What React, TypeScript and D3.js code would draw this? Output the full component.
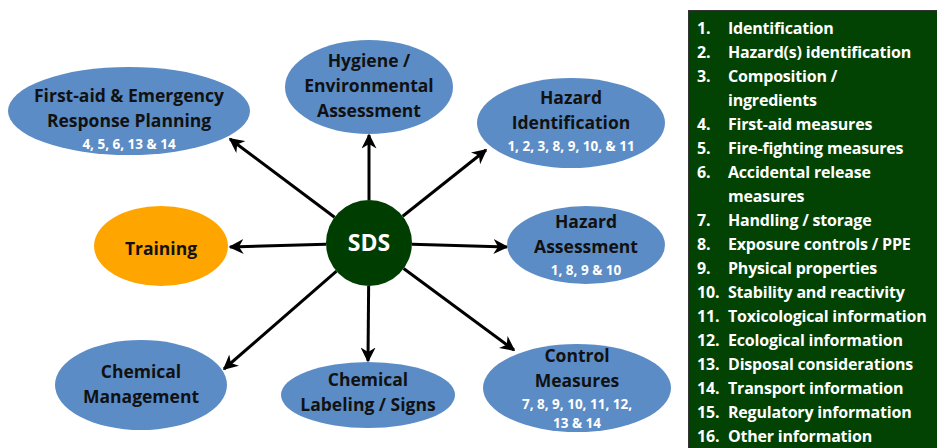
import React, { useEffect, useRef } from "react";
import * as d3 from "d3";

// node content
const nodeIds = ["firstAid", "hygiene", "hazardId", "training", "hazardAssess", "chemMgmt", "chemLabel", "control"];
const nodeTitles = [
  ["First-aid & Emergency", "Response Planning"],
  ["Hygiene /", "Environmental", "Assessment"],
  ["Hazard", "Identification"],
  ["Training"],
  ["Hazard", "Assessment"],
  ["Chemical", "Management"],
  ["Chemical", "Labeling / Signs"],
  ["Control", "Measures"],
];
const nodeSections = [
  ["4, 5, 6, 13 & 14"],
  [],
  ["1, 2, 3, 8, 9, 10, & 11"],
  [],
  ["1, 8, 9 & 10"],
  [],
  [],
  ["7, 8, 9, 10, 11, 12,", "13 & 14"],
];
const centerLabel = "SDS";

// SDS sections list (wrapped lines)
const sectionNums = ["1.", "2.", "3.", "", "4.", "5.", "6.", "", "7.", "8.", "9.", "10.", "11.", "12.", "13.", "14.", "15.", "16."];
const sectionText = [
  "Identification",
  "Hazard(s) identification",
  "Composition /",
  "ingredients",
  "First-aid measures",
  "Fire-fighting measures",
  "Accidental release",
  "measures",
  "Handling / storage",
  "Exposure controls / PPE",
  "Physical properties",
  "Stability and reactivity",
  "Toxicological information",
  "Ecological information",
  "Disposal considerations",
  "Transport information",
  "Regulatory information",
  "Other information",
];

// layout (pixels): ellipse centre, radii, arrow tip
const layout: Record<string, { cx: number; cy: number; rx: number; ry: number; tip: [number, number]; fill: string; top: number }> = {
  firstAid: { cx: 129, cy: 111, rx: 121, ry: 44, tip: [230, 139], fill: "#5b8cc6", top: 96 },
  hygiene: { cx: 369, cy: 87, rx: 84, ry: 47, tip: [369, 135], fill: "#5b8cc6", top: 61 },
  hazardId: { cx: 571, cy: 123, rx: 94, ry: 45, tip: [486, 150], fill: "#5b8cc6", top: 98 },
  training: { cx: 161, cy: 246, rx: 67, ry: 40, tip: [230, 247], fill: "#ffa500", top: 249 },
  hazardAssess: { cx: 586, cy: 245, rx: 79, ry: 39, tip: [507, 247], fill: "#5b8cc6", top: 222 },
  chemMgmt: { cx: 141, cy: 385, rx: 86, ry: 45, tip: [224, 369], fill: "#5b8cc6", top: 372 },
  chemLabel: { cx: 368, cy: 395, rx: 87, ry: 33, tip: [368, 361], fill: "#5b8cc6", top: 380 },
  control: { cx: 577, cy: 388, rx: 94, ry: 44, tip: [514, 350], fill: "#5b8cc6", top: 356 },
};
const hub = { cx: 369, cy: 243, r: 43 };

const App = () => {
  const svgRef = useRef<SVGSVGElement>(null);

  useEffect(() => {
    const svg = d3.select(svgRef.current);
    svg.selectAll("*").remove();

    const font = "'Open Sans', Lato, sans-serif";

    svg
      .append("defs")
      .append("marker")
      .attr("id", "arrow")
      .attr("viewBox", "0 0 10 10")
      .attr("refX", 9)
      .attr("refY", 5)
      .attr("markerWidth", 5)
      .attr("markerHeight", 5)
      .attr("orient", "auto")
      .append("path")
      .attr("d", "M0,0 L10,5 L0,10 L3,5 Z")
      .attr("fill", "#000");

    // arrows
    svg
      .append("g")
      .selectAll("line")
      .data(nodeIds)
      .enter()
      .append("line")
      .each(function (id) {
        const l = layout[id];
        const dx = l.tip[0] - hub.cx;
        const dy = l.tip[1] - hub.cy;
        const len = Math.hypot(dx, dy);
        d3.select(this)
          .attr("x1", hub.cx + (dx / len) * hub.r)
          .attr("y1", hub.cy + (dy / len) * hub.r)
          .attr("x2", l.tip[0])
          .attr("y2", l.tip[1]);
      })
      .attr("stroke", "#000")
      .attr("stroke-width", 3)
      .attr("marker-end", "url(#arrow)");

    // ellipses
    const node = svg
      .append("g")
      .selectAll("g")
      .data(nodeIds)
      .enter()
      .append("g");

    node
      .append("ellipse")
      .attr("cx", (d) => layout[d].cx)
      .attr("cy", (d) => layout[d].cy)
      .attr("rx", (d) => layout[d].rx)
      .attr("ry", (d) => layout[d].ry)
      .attr("fill", (d) => layout[d].fill);

    node.each(function (id, i) {
      const l = layout[id];
      const g = d3.select(this);
      nodeTitles[i].forEach((t, j) => {
        g.append("text")
          .attr("x", l.cx)
          .attr("y", l.top + j * 25)
          .attr("dy", "0.35em")
          .attr("text-anchor", "middle")
          .attr("font-family", font)
          .attr("font-weight", "bold")
          .attr("font-size", 17.5)
          .attr("fill", "#111")
          .text(t);
      });
      const base = l.top + nodeTitles[i].length * 25 - 2;
      nodeSections[i].forEach((t, j) => {
        g.append("text")
          .attr("x", l.cx)
          .attr("y", base + j * 19)
          .attr("dy", "0.35em")
          .attr("text-anchor", "middle")
          .attr("font-family", font)
          .attr("font-weight", "bold")
          .attr("font-size", 13.5)
          .attr("fill", "#fff")
          .text(t);
      });
    });

    // hub
    svg
      .append("circle")
      .attr("cx", hub.cx)
      .attr("cy", hub.cy)
      .attr("r", hub.r)
      .attr("fill", "#003d00");
    svg
      .append("text")
      .attr("x", hub.cx)
      .attr("y", hub.cy)
      .attr("dy", "0.35em")
      .attr("text-anchor", "middle")
      .attr("font-family", font)
      .attr("font-weight", "bold")
      .attr("font-size", 23)
      .attr("fill", "#fff")
      .text(centerLabel);

    // SDS sections panel
    svg
      .append("rect")
      .attr("x", 688.5)
      .attr("y", 10.5)
      .attr("width", 260)
      .attr("height", 450)
      .attr("fill", "#024202")
      .attr("stroke", "#333")
      .attr("stroke-width", 1);

    const y = d3.scaleLinear().domain([0, sectionText.length - 1]).range([28, 436]);

    const rows = svg
      .append("g")
      .selectAll("g")
      .data(sectionText)
      .enter()
      .append("g")
      .attr("transform", (_, i) => `translate(0,${y(i)})`);

    rows
      .append("text")
      .attr("x", 697)
      .attr("dy", "0.35em")
      .attr("font-family", font)
      .attr("font-weight", "bold")
      .attr("font-size", 16)
      .attr("letter-spacing", -0.2)
      .attr("fill", "#fff")
      .text((_, i) => sectionNums[i]);

    rows
      .append("text")
      .attr("x", 728)
      .attr("dy", "0.35em")
      .attr("font-family", font)
      .attr("font-weight", "bold")
      .attr("font-size", 16)
      .attr("letter-spacing", -0.2)
      .attr("fill", "#fff")
      .text((d) => d);
  }, []);

  return (
    <svg
      ref={svgRef}
      width={937}
      height={448}
      style={{ position: "absolute", left: 0, top: 0, background: "#fff" }}
    ></svg>
  );
};

export default App;
